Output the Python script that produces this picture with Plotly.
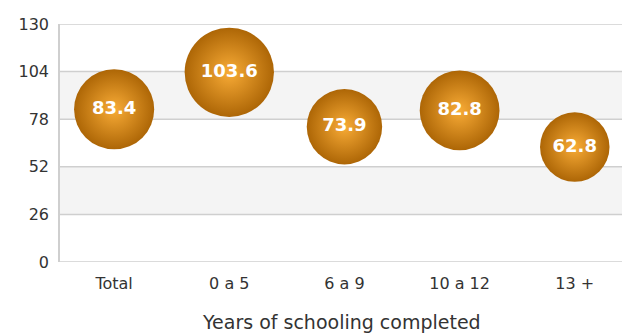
import plotly.graph_objects as go

categories = ["Total", "0 a 5", "6 a 9", "10 a 12", "13 +"]
values = [83.4, 103.6, 73.9, 82.8, 62.8]
labels = ["83.4", "103.6", "73.9", "82.8", "62.8"]
y_ticks = [0, 26, 52, 78, 104, 130]
x_title = "Years of schooling completed"

fig = go.Figure()

# alternating bands
for i in range(len(y_ticks) - 1):
    if i % 2 == 1:
        fig.add_shape(type="rect", xref="paper", yref="y", x0=0, x1=1,
                      y0=y_ticks[i], y1=y_ticks[i + 1],
                      fillcolor="#f4f4f4", line_width=0, layer="below")
# gridlines
for t in y_ticks:
    fig.add_shape(type="line", xref="paper", yref="y", x0=0, x1=1,
                  y0=t, y1=t, line=dict(color="#cfcfcf", width=1.5),
                  layer="below")

fig.add_trace(go.Scatter(
    x=categories, y=values, mode="markers+text",
    text=labels, textposition="middle center",
    textfont=dict(family="DejaVu Sans", size=18, color="white", weight="bold"),
    marker=dict(size=values, sizemode="area", sizeref=0.026,
                color="#ad6606",
                gradient=dict(type="radial", color="#f8ab36"),
                line=dict(width=0), opacity=1),
    cliponaxis=False, hoverinfo="skip", showlegend=False,
))

fig.add_annotation(text=x_title, xref="paper", yref="paper",
                   x=0.5, y=-0.198, xanchor="center", yanchor="top",
                   showarrow=False, font=dict(size=19, color="#333333"))

fig.update_layout(
    width=622, height=333,
    margin=dict(l=60, r=0, t=24, b=71),
    paper_bgcolor="white", plot_bgcolor="white",
    font=dict(family="DejaVu Sans", color="#333333"),
    xaxis=dict(type="category", range=[-0.47, 4.41], showgrid=False,
               zeroline=False, showline=False, ticks="", automargin=False,
               tickfont=dict(size=16, color="#333333"),
               ticklabelstandoff=10),
    yaxis=dict(range=[0, 130], tickvals=y_ticks, showgrid=False,
               zeroline=False, automargin=False,
               showline=True, linecolor="#cfcfcf", linewidth=1.5,
               ticks="", tickfont=dict(size=16, color="#333333"),
               ticklabelstandoff=6),
)

fig.write_html("out.html")
